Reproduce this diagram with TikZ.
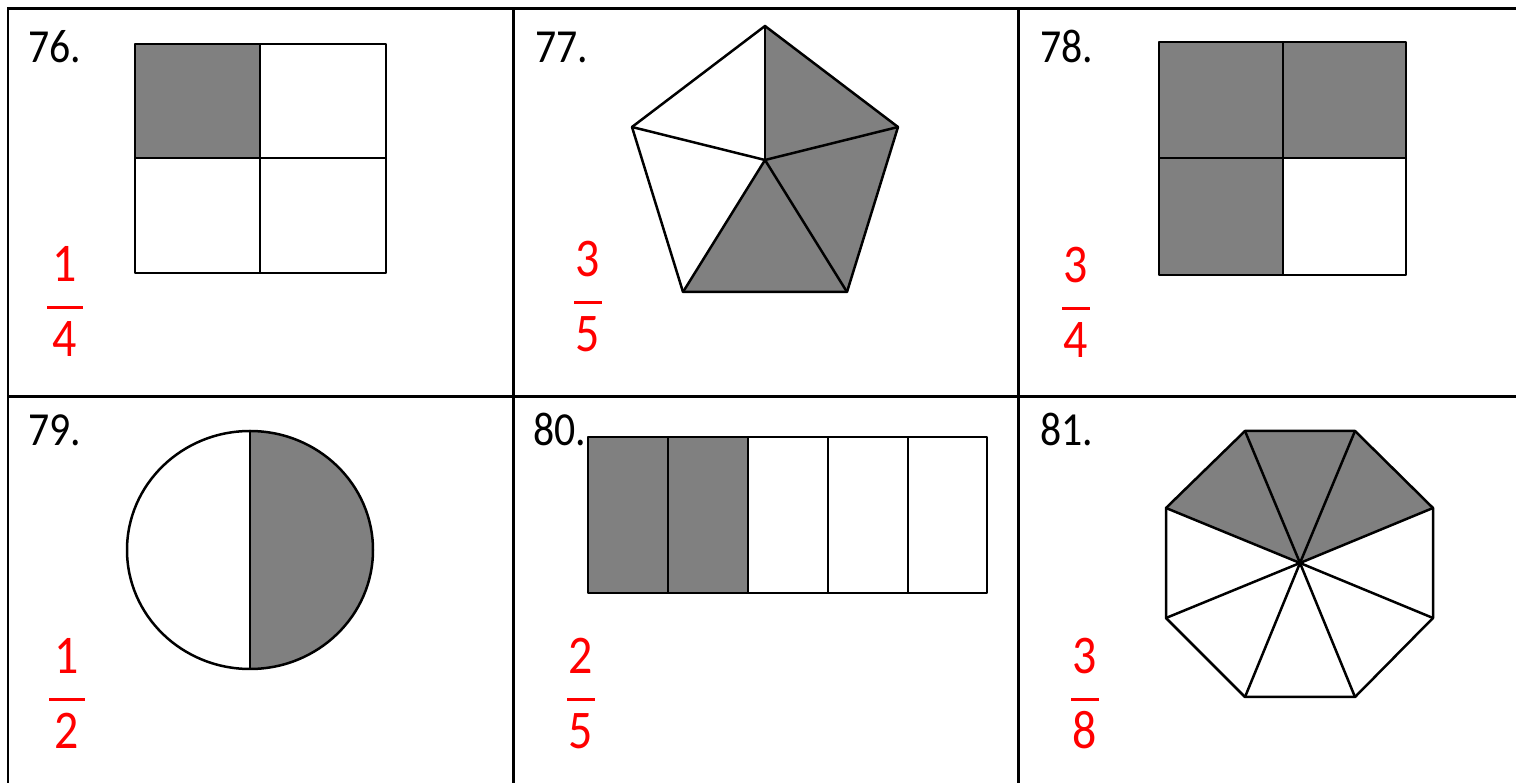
\documentclass[tikz,border=0pt]{standalone}
\usepackage{fontspec}
\setmainfont{Carlito}
\newfontfamily\handfont{Carlito}[FakeStretch=0.88]
\usepackage{xcolor}
\usetikzlibrary{positioning, calc}

% red answer: name, x, bar y, half bar width, numerator, denominator
\newcommand{\answer}[6]{%
    \node[frac, anchor=base] (#1num) at (#2,#3-26) {#5};
    \node[frac, anchor=base] (#1den) at (#2,#3+49) {#6};
    \draw[fracbar] (#2-#4,#3) -- (#2+#4,#3);
}

\begin{document}
\begin{tikzpicture}[
    x=0.02cm, y=-0.02cm,
    grid/.style={line width=0.06cm, black, line cap=rect},
    piece/.style={line width=0.05cm, black, line join=round},
    shaded/.style={fill=black!50},
    qnum/.style={font=\handfont\fontsize{27}{30}\selectfont, anchor=base west, inner sep=0pt},
    frac/.style={font=\handfont\fontsize{31}{36}\selectfont, text=red, inner sep=0pt},
    fracbar/.style={line width=0.06cm, red},
]

    \useasboundingbox (0,0) rectangle (1516,783);
    \fill[white] (0,0) rectangle (1516,783);

    % 1. Table lines
    \draw[grid] (8,783) -- (8,9) -- (1516,9);
    \draw[grid] (8,397) -- (1516,397);
    \draw[grid] (513,9) -- (513,783);
    \draw[grid] (1018,9) -- (1018,783);

    % 2. Question numbers
    \node[qnum] (q76) at (28,63) {76.};
    \node[qnum] (q77) at (535,63) {77.};
    \node[qnum] (q78) at (1040,63) {78.};
    \node[qnum] (q79) at (28,446) {79.};
    \node[qnum] (q80) at (533,446) {80.};
    \node[qnum] (q81) at (1040,446) {81.};

    % 3. Square in quarters (76)
    \fill[shaded] (135,44) rectangle (260,158);
    \draw[piece] (135,44) rectangle (386,273);
    \draw[piece] (260,44) -- (260,273) (135,158) -- (386,158);

    % 4. Pentagon in fifths (77)
    \coordinate (pc) at (765,160);
    \coordinate (pa) at (765,26);
    \coordinate (pb) at (898,127);
    \coordinate (pd) at (847,292);
    \coordinate (pe) at (683,292);
    \coordinate (pf) at (632,127);
    \fill[shaded] (pc) -- (pa) -- (pb) -- (pd) -- (pe) -- cycle;
    \draw[piece] (pa) -- (pb) -- (pd) -- (pe) -- (pf) -- cycle;
    \foreach \v in {pa,pb,pd,pe,pf}
        \draw[piece] (pc) -- (\v);

    % 5. Square with three quarters (78)
    \fill[shaded] (1159,42) rectangle (1406,158);
    \fill[shaded] (1159,158) rectangle (1283,275);
    \draw[piece] (1159,42) rectangle (1406,275);
    \draw[piece] (1283,42) -- (1283,275) (1159,158) -- (1406,158);

    % 6. Circle in halves (79)
    \fill[shaded] (250,431) arc[start angle=-90, end angle=90, x radius=123, y radius=119] -- cycle;
    \draw[piece] (250,550) ellipse[x radius=123, y radius=119];
    \draw[piece] (250,431) -- (250,669);

    % 7. Strip in fifths (80)
    \fill[shaded] (588,437) rectangle (748,593);
    \draw[piece] (588,437) rectangle (987,593);
    \foreach \x in {668,748,828,908}
        \draw[piece] (\x,437) -- (\x,593);

    % 8. Octagon in eighths (81)
    \coordinate (oc) at (1300,563);
    \coordinate (o1) at (1245,431);
    \coordinate (o2) at (1355,431);
    \coordinate (o3) at (1433,508);
    \coordinate (o4) at (1433,618);
    \coordinate (o5) at (1355,697);
    \coordinate (o6) at (1245,697);
    \coordinate (o7) at (1166,618);
    \coordinate (o8) at (1166,508);
    \fill[shaded] (oc) -- (o8) -- (o1) -- (o2) -- (o3) -- cycle;
    \draw[piece] (o1) -- (o2) -- (o3) -- (o4) -- (o5) -- (o6) -- (o7) -- (o8) -- cycle;
    \foreach \v in {o1,o2,o3,o4,o5,o6,o7,o8}
        \draw[piece] (oc) -- (\v);

    % 9. Answers
    \answer{a76}{65}{308}{18}{1}{4}
    \answer{a77}{588}{303}{14}{3}{5}
    \answer{a78}{1076}{309}{14}{3}{4}
    \answer{a79}{67}{700}{18}{1}{2}
    \answer{a80}{581}{700}{14}{2}{5}
    \answer{a81}{1085}{700}{14}{3}{8}

\end{tikzpicture}
\end{document}
